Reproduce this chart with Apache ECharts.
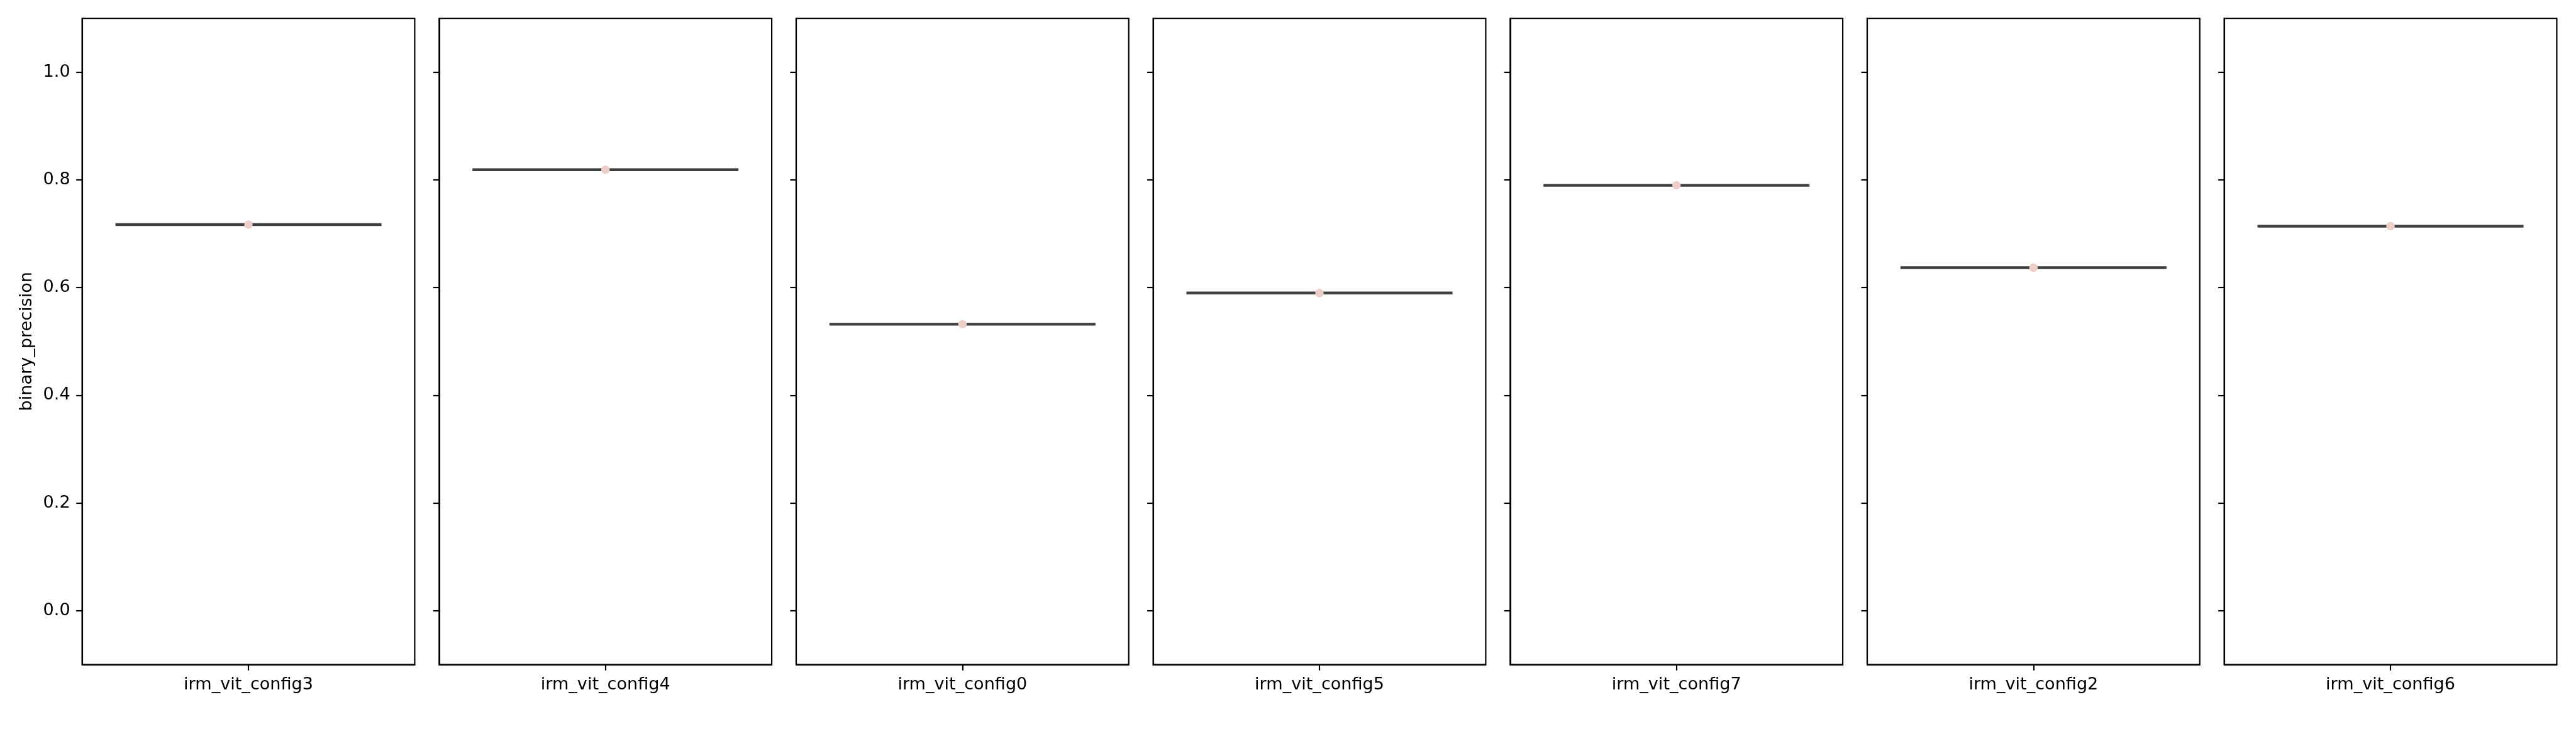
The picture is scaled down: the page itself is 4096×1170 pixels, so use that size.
<!DOCTYPE html>
<html>
<head>
<meta charset="utf-8">
<script src="https://cdn.jsdelivr.net/npm/echarts@6/dist/echarts.min.js"></script>
<style>
html,body{margin:0;padding:0;background:#fff;}
#chart{width:4096px;height:1170px;}
</style>
</head>
<body>
<div id="chart"></div>
<script>
const categories = ['irm_vit_config3','irm_vit_config4','irm_vit_config0','irm_vit_config5','irm_vit_config7','irm_vit_config2','irm_vit_config6'];
const precision = [0.717, 0.819, 0.532, 0.590, 0.790, 0.637, 0.714];
const yTickValues = [0.0, 0.2, 0.4, 0.6, 0.8, 1.0];
const yLabel = 'binary_precision';

(function () {
const S = 0.65;
const FONT = 'DejaVu Sans';
const fs = 41.67 * S;
const lw = 3.33 * S;
const tickLen = 14.6 * S;
const left0 = 201 * S, pitch = 873.33 * S, pw = 813.5 * S;
const gTop = 45 * S, gBottom = 1625 * S;

const chart = echarts.init(document.getElementById('chart'), null, {renderer: 'canvas'});
const grids = [], xAxes = [], yAxes = [], series = [];
categories.forEach((c, i) => {
  grids.push({left: left0 + i * pitch, width: pw, top: gTop, height: gBottom - gTop,
    show: true, borderColor: '#000', borderWidth: lw, backgroundColor: 'transparent', containLabel: false});
  xAxes.push({type: 'category', gridIndex: i, data: [c], boundaryGap: true, position: 'bottom',
    axisLine: {show: true, onZero: false, lineStyle: {color: '#000', width: lw}},
    axisTick: {show: true, alignWithLabel: true, length: tickLen, lineStyle: {color: '#000', width: lw}},
    axisLabel: {show: true, color: '#000', fontFamily: FONT, fontSize: fs, margin: tickLen + 14.6 * S},
    splitLine: {show: false}});
  yAxes.push({type: 'value', gridIndex: i, min: -0.1, max: 1.1,
    name: i === 0 ? yLabel : '', nameLocation: 'middle', nameGap: 74,
    nameTextStyle: {color: '#000', fontFamily: FONT, fontSize: fs},
    axisLine: {show: true, onZero: false, lineStyle: {color: '#000', width: lw}},
    axisTick: {show: true, length: tickLen, customValues: yTickValues, lineStyle: {color: '#000', width: lw}},
    axisLabel: {show: i === 0, customValues: yTickValues, color: '#000', fontFamily: FONT, fontSize: fs,
      margin: tickLen + 14.6 * S, formatter: v => v.toFixed(1)},
    splitLine: {show: false}});
  const v = precision[i];
  series.push({type: 'boxplot', xAxisIndex: i, yAxisIndex: i,
    data: [[v, v, v, v, v]], boxWidth: ['80%', '80%'],
    itemStyle: {color: 'transparent', borderColor: '#3f3f3f', borderWidth: 6.7 * S},
    emphasis: {disabled: true}, silent: true, z: 2});
  series.push({type: 'scatter', xAxisIndex: i, yAxisIndex: i,
    data: [[c, v]], symbol: 'circle', symbolSize: 20.7 * S,
    itemStyle: {color: '#EBCFC8', opacity: 1}, silent: true, z: 3});
});

chart.setOption({
  animation: false,
  backgroundColor: '#fff',
  grid: grids, xAxis: xAxes, yAxis: yAxes, series: series
});
})();
</script>
</body>
</html>
